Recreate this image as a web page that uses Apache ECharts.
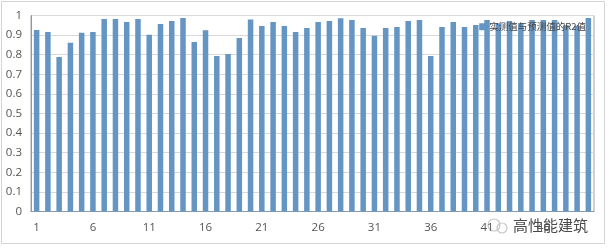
<!DOCTYPE html>
<html><head><meta charset="utf-8">
<script src="https://cdn.jsdelivr.net/npm/echarts@6/dist/echarts.min.js"></script>
<style>html,body{margin:0;padding:0;background:#fff}#c{width:608px;height:250px}</style>
</head><body><div id="c"></div>
<script>
const categories = Array.from({length: 50}, (_, i) => String(i + 1));
const seriesName = '实测值与预测值的R2值';
const r2Values = [
  0.926, 0.916, 0.788, 0.861, 0.912, 0.916, 0.982, 0.982, 0.967, 0.982,
  0.902, 0.957, 0.972, 0.987, 0.865, 0.925, 0.793, 0.803, 0.885, 0.979,
  0.946, 0.967, 0.946, 0.916, 0.936, 0.967, 0.972, 0.986, 0.977, 0.936,
  0.897, 0.936, 0.941, 0.972, 0.977, 0.793, 0.941, 0.967, 0.941, 0.952,
  0.977, 0.960, 0.972, 0.962, 0.977, 0.977, 0.977, 0.950, 0.948, 0.987
];
const yTicks = [0, 0.1, 0.2, 0.3, 0.4, 0.5, 0.6, 0.7, 0.8, 0.9, 1];
const watermark = '高性能建筑';

const chart = echarts.init(document.getElementById('c'), null, {renderer: 'canvas'});
chart.setOption({
  animation: false,
  backgroundColor: '#fff',
  textStyle: {fontFamily: 'Open Sans, Noto Sans CJK SC, sans-serif'},
  grid: {left: 31, right: 14, top: 15.5, bottom: 38.5, show: true, borderColor: '#9aa3ad', borderWidth: 1},
  legend: {
    data: [seriesName], right: 22, top: 22, itemWidth: 7, itemHeight: 7, itemGap: 4,
    icon: 'rect', padding: 0,
    textStyle: {fontSize: 9.5, color: '#444', fontFamily: 'Noto Sans CJK SC', padding: [0,0,0,-2]}
  },
  xAxis: {
    type: 'category', data: categories,
    axisLine: {lineStyle: {color: '#8a9bb0'}},
    axisTick: {show: false},
    axisLabel: {interval: 4, color: '#555', fontSize: 11.5, margin: 10}
  },
  yAxis: {
    type: 'value', min: 0, max: 1, interval: 0.1,
    axisLine: {show: true, lineStyle: {color: '#8a9bb0'}},
    axisTick: {show: false},
    axisLabel: {color: '#555', fontSize: 11.5, margin: 9,
      formatter: v => { const t = yTicks.find(x => Math.abs(x - v) < 1e-6); return t === undefined ? '' : String(+t.toFixed(1)); }},
    splitLine: {lineStyle: {color: '#d9d9d9'}}
  },
  series: [{
    name: seriesName, type: 'bar', data: r2Values, barWidth: 5.5,
    itemStyle: {color: '#6495c3'}
  }],
  graphic: [
    {type: 'rect', shape: {x: 1.5, y: 1.5, width: 603, height: 242}, style: {fill: 'none', stroke: '#d4d4d4', lineWidth: 1}, z: -1},
    {type: 'circle', shape: {cx: 494, cy: 225, r: 6}, style: {fill: 'none', stroke: '#c8c8c8', lineWidth: 1.2}},
    {type: 'circle', shape: {cx: 502, cy: 228, r: 5}, style: {fill: 'none', stroke: '#c8c8c8', lineWidth: 1.2}},
    {type: 'text', left: 512, top: 217, style: {text: watermark, fontSize: 15, fill: '#4a4a4a', fontFamily: 'Noto Sans CJK SC', stroke: '#fff', lineWidth: 2}}
  ]
});
</script></body></html>
